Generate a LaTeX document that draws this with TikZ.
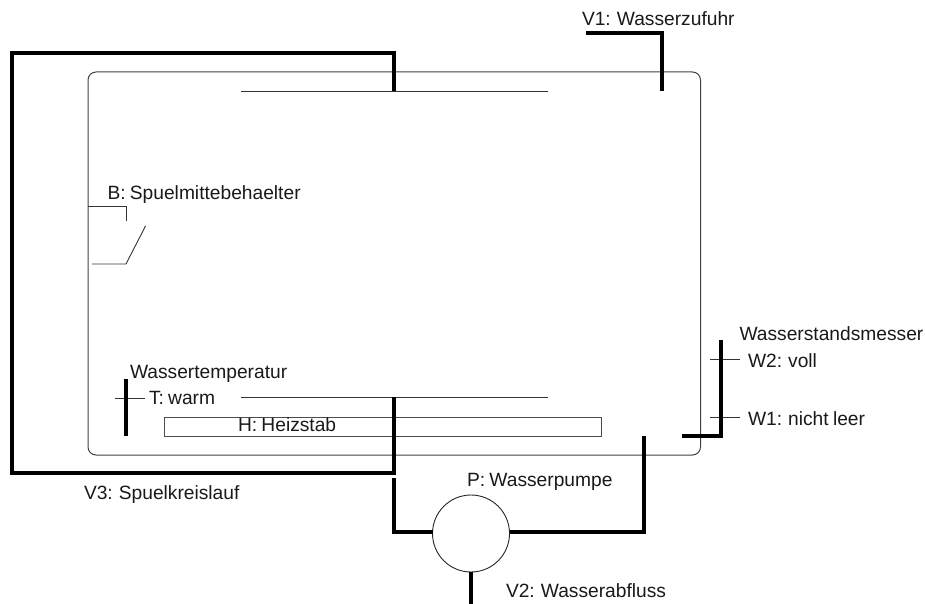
\documentclass[tikz,border=0pt]{standalone}
\usepackage{fontspec}
\setmainfont[WordSpace=0.8]{Liberation Sans}
\tikzset{
  lbl/.style={anchor=base west,inner sep=0pt,outer sep=0pt,font=\fontsize{19.2}{22}\selectfont,text=black!90},
  thin line/.style={draw=black!80,line width=0.9pt},
  pipe/.style={draw=black,line width=4pt,line cap=butt,line join=miter},
  tankbox/.style={draw=black!75,line width=1pt,rounded corners=8pt,inner sep=0pt,outer sep=0pt,anchor=north west,minimum width=612.5pt,minimum height=383pt},
  heaterbox/.style={draw=black!70,line width=0.9pt,inner sep=0pt,outer sep=0pt,anchor=north west,minimum width=437.5pt,minimum height=19pt},
  pumpbox/.style={circle,draw=black!85,line width=0.9pt,inner sep=0pt,outer sep=0pt,minimum size=77pt},
}
\begin{document}
\begin{tikzpicture}[x=1pt,y=-1pt]
\useasboundingbox (0,0) rectangle (925,604);
\node[tankbox] (tank) at (88,72) {};
\node[heaterbox] (heater) at (164,417) {};
\node[pumpbox] (pump) at (471,533.5) {};
% fixed points
\coordinate (topA) at (241,91); \coordinate (topB) at (548,91);
\coordinate (botA) at (241,397.5); \coordinate (botB) at (548,397.5);
\coordinate (v3a) at (394,91); \coordinate (v3b) at (394,53); \coordinate (v3c) at (12,53);
\coordinate (v3d) at (12,473); \coordinate (v3e) at (394,473); \coordinate (v3f) at (394,397);
\coordinate (p1) at (394,478); \coordinate (p2) at (394,531.5);
\coordinate (p3) at (644,531.5); \coordinate (p4) at (644,436);
\coordinate (v2e) at (471,605);
\coordinate (v1a) at (586,33.5); \coordinate (v1b) at (662,33.5); \coordinate (v1c) at (662,91);
\coordinate (wa) at (682,436); \coordinate (wb) at (721,436); \coordinate (wc) at (721,340);
\coordinate (w2a) at (710,359); \coordinate (w2b) at (740,359);
\coordinate (w1a) at (710,417); \coordinate (w1b) at (740,417);
\coordinate (ta) at (126,379); \coordinate (tb) at (126,436);
\coordinate (tc) at (115,398); \coordinate (td) at (145,398);
\coordinate (b1) at (88,206.5); \coordinate (b2) at (126.5,206.5); \coordinate (b3) at (126.5,221);
\coordinate (b4) at (92,264); \coordinate (b5) at (126,264); \coordinate (b6) at (145.5,226);
% thin lines
\draw[thin line] (topA) -- (topB);
\draw[thin line] (botA) -- (botB);
\draw[thin line] (w2a) -- (w2b);
\draw[thin line] (w1a) -- (w1b);
\draw[thin line] (tc) -- (td);
\draw[thin line] (b1) -- (b2) -- (b3);
\draw[thin line] (b4) -- (b5) -- (b6);
% pipes
\draw[pipe] (v3a) -- (v3b) -- (v3c) -- (v3d) -- (v3e) -- (v3f);
\draw[pipe] (p1) -- (p2) -- (pump.west |- p2);
\draw[pipe] (pump.east |- p3) -- (p3) -- (p4);
\draw[pipe] (pump.south) -- (v2e);
\draw[pipe] (v1a) -- (v1b) -- (v1c);
\draw[pipe] (wa) -- (wb) -- (wc);
\draw[pipe] (ta) -- (tb);
% labels
\node[lbl] (lv1) at (582,26) {V1: Wasserzufuhr};
\node[lbl] (lb) at (107.5,199) {B: Spuelmittebehaelter};
\node[lbl] (lwt) at (130,378) {Wassertemperatur};
\node[lbl] (lt) at (149,404) {T: warm};
\node[lbl] (lh) at (238,431) {H: Heizstab};
\node[lbl] (lwm) at (739.5,340) {Wasserstandsmesser};
\node[lbl] (lw2) at (748,367) {W2: voll};
\node[lbl] (lw1) at (748,425) {W1: nicht leer};
\node[lbl] (lp) at (467,486) {P: Wasserpumpe};
\node[lbl] (lv2) at (506,597) {V2: Wasserabfluss};
\node[lbl] (lv3) at (84,499) {V3: Spuelkreislauf};
\end{tikzpicture}
\end{document}
